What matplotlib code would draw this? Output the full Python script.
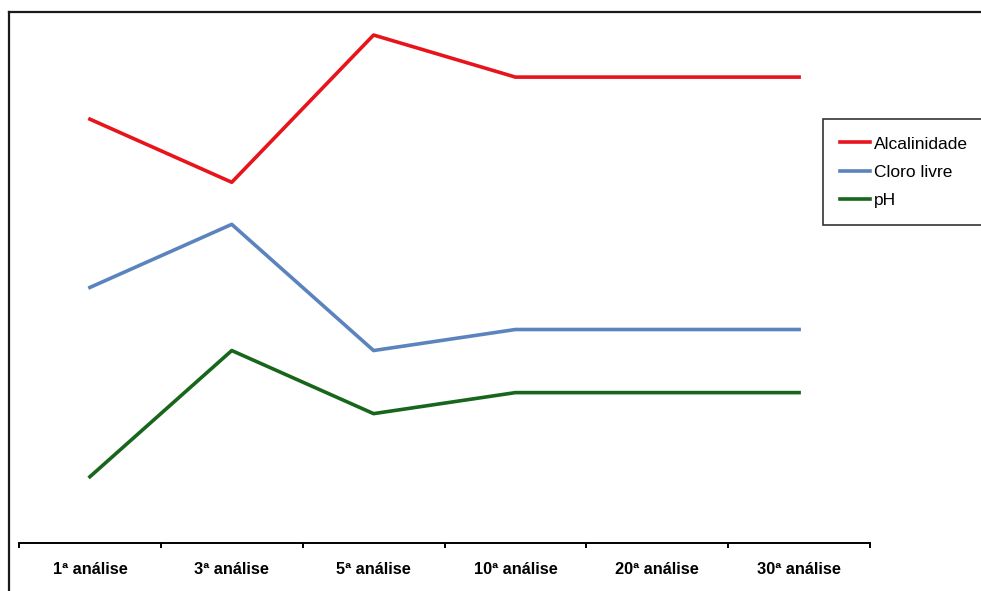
import matplotlib.pyplot as plt
from matplotlib.lines import Line2D
import numpy as np

# análises e medições
analises = ['1ª análise', '3ª análise', '5ª análise', '10ª análise', '20ª análise', '30ª análise']
alcalinidade = [20, 17, 24, 22, 22, 22]
cloro_livre = [12, 15, 9, 10, 10, 10]
ph = [3, 9, 6, 7, 7, 7]

plt.rcParams['font.family'] = ['Liberation Sans', 'DejaVu Sans']

fig = plt.figure(figsize=(9.81, 5.91), dpi=100)
ax = fig.add_axes([19 / 981, 48 / 591, 851 / 981, 529 / 591])

x = np.arange(len(analises))
ax.plot(x, alcalinidade, color='#E8141C', lw=2.6, label='Alcalinidade')
ax.plot(x, cloro_livre, color='#5B84BE', lw=2.6, label='Cloro livre')
ax.plot(x, ph, color='#17661C', lw=2.6, label='pH')

ax.set_xlim(-0.5, len(analises) - 0.5)
ax.set_ylim(-0.15, 25)

# eixo x só embaixo, marcas entre as categorias
for s in ['top', 'right', 'left']:
    ax.spines[s].set_visible(False)
ax.spines['bottom'].set_linewidth(1.4)
ax.set_yticks([])
ax.set_xticks(x)
ax.set_xticklabels(analises, fontsize=11.8, fontweight='bold')
ax.tick_params(axis='x', which='major', length=0, pad=14)
ax.set_xticks(np.arange(-0.5, len(analises)), minor=True)
ax.tick_params(axis='x', which='minor', length=3.5, width=1.4, direction='out')

leg = fig.legend(loc='upper left', bbox_to_anchor=(823 / 981, 1 - 119 / 591),
                 fontsize=12.5, frameon=True, fancybox=False, handlelength=1.7,
                 handletextpad=0.25, labelspacing=0.75, borderpad=1.0,
                 borderaxespad=0)
leg.get_frame().set_edgecolor('black')
leg.get_frame().set_linewidth(1.2)

# moldura superior e esquerda
fig.add_artist(Line2D([8.5 / 981, 1], [1 - 11.5 / 591] * 2, color='#1a1a1a', lw=1.6))
fig.add_artist(Line2D([8.5 / 981] * 2, [0, 1 - 11.5 / 591], color='#1a1a1a', lw=1.6))

fig.savefig('out.png', dpi=100)
